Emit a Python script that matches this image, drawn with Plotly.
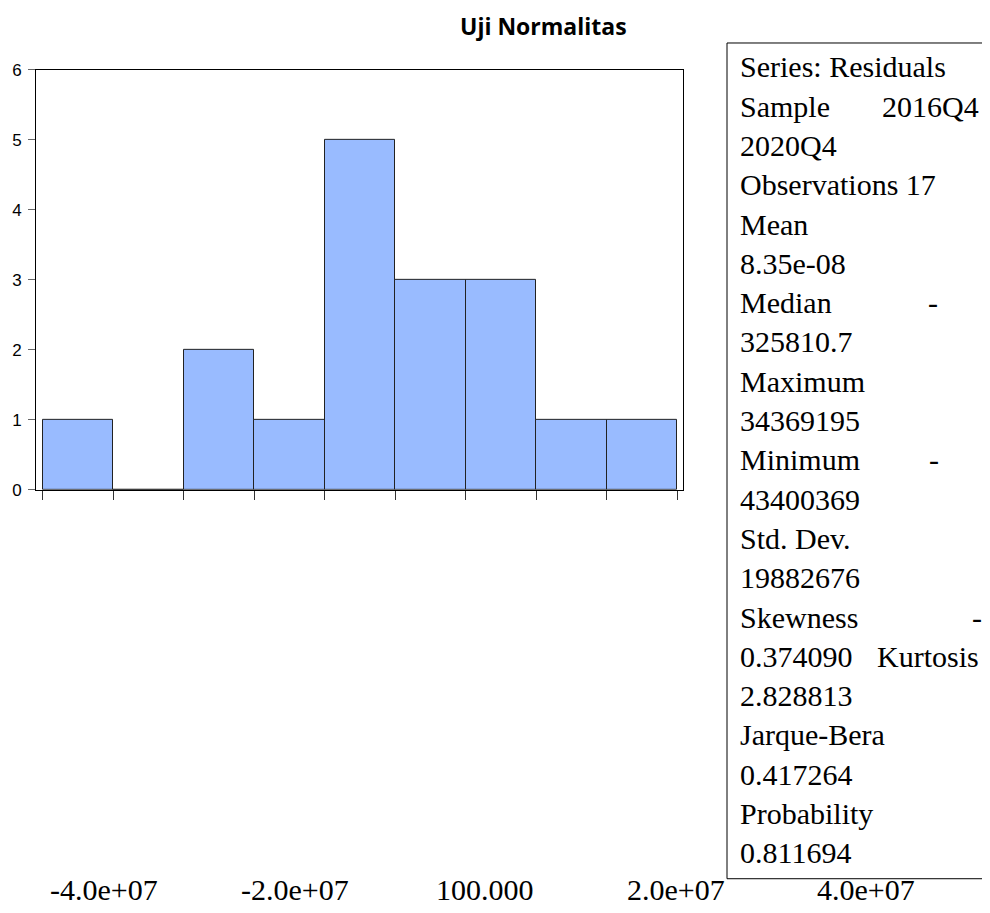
import plotly.graph_objects as go

# ---- data ----
bin_left_edges = [-5.0e7, -4.0e7, -3.0e7, -2.0e7, -1.0e7, 0.0, 1.0e7, 2.0e7, 3.0e7]
bin_width = 1.0e7
counts = [1, 0, 2, 1, 5, 3, 3, 1, 1]
y_ticks = [0, 1, 2, 3, 4, 5, 6]
bottom_labels = ["-4.0e+07", "-2.0e+07", "100.000", "2.0e+07", "4.0e+07"]
title_text = "Uji Normalitas"
stats_lines = [
    ("Series: Residuals", None),
    ("Sample", "2016Q4"),
    ("2020Q4", None),
    ("Observations 17", None),
    ("Mean", None),
    ("8.35e-08", None),
    ("Median", "-"),
    ("325810.7", None),
    ("Maximum", None),
    ("34369195", None),
    ("Minimum", "-"),
    ("43400369", None),
    ("Std. Dev.", None),
    ("19882676", None),
    ("Skewness", "-"),
    ("0.374090", "Kurtosis"),
    ("2.828813", None),
    ("Jarque-Bera", None),
    ("0.417264", None),
    ("Probability", None),
    ("0.811694", None),
]

OFF = 8  # page body margin
W, H = 990 - 2 * OFF, 913 - OFF

def px(x):
    return (x - OFF) / W

def py(y):
    yy = (y - 7) / 0.984
    return 1 - (yy - OFF) / H

centers = [e + bin_width / 2 for e in bin_left_edges]
edges = bin_left_edges + [bin_left_edges[-1] + bin_width]

fig = go.Figure()
fig.add_trace(go.Bar(
    x=centers, y=counts, width=[bin_width] * len(counts),
    marker=dict(color="#99BBFF", line=dict(color="#222222", width=1)),
    showlegend=False, hoverinfo="skip",
))

fig.update_layout(
    width=W, height=H, autosize=False,
    margin=dict(l=0, r=0, t=0, b=0),
    paper_bgcolor="white", plot_bgcolor="white",
    bargap=0,
    xaxis=dict(
        domain=[px(36), px(683)],
        range=[-5.099e7, 4.085e7],
        showgrid=False, zeroline=False,
        showline=True, linecolor="black", linewidth=1, mirror=True,
        ticks="outside", ticklen=9, tickcolor="#333333", tickwidth=1,
        tickvals=edges, showticklabels=False,
    ),
    yaxis=dict(
        domain=[py(490), py(68)],
        range=[0, 6],
        showgrid=False, zeroline=False,
        showline=True, linecolor="black", linewidth=1, mirror=True,
        ticks="outside", ticklen=7, tickcolor="#666666", tickwidth=1,
        tickvals=y_ticks, ticklabelstandoff=3,
        tickfont=dict(family="Liberation Sans, Arial, sans-serif", size=17, color="black"),
    ),
)

# title
fig.add_annotation(
    text="<b>" + title_text + "</b>", xref="paper", yref="paper",
    x=px(543), y=py(24), xanchor="center", yanchor="middle", showarrow=False,
    font=dict(family="Open Sans, sans-serif", size=23, color="black"),
)

# stats box
fig.add_shape(
    type="rect", xref="paper", yref="paper",
    x0=px(727), x1=px(1010), y0=py(881), y1=py(41),
    line=dict(color="black", width=1), fillcolor="rgba(0,0,0,0)",
)
serif = dict(family="Liberation Serif, Times New Roman, serif", size=30, color="black")
right_pos = {"2016Q4": 981, "Kurtosis": 981}
dash_pos = {"Median": 933, "Minimum": 934, "Skewness": 977}
for i, (left, right) in enumerate(stats_lines):
    yc = 65 + i * 39.5
    fig.add_annotation(
        text=left, xref="paper", yref="paper", x=px(738), y=py(yc),
        xanchor="left", yanchor="middle", showarrow=False, font=serif,
    )
    if right is not None:
        if right == "-":
            fig.add_annotation(
                text=right, xref="paper", yref="paper", x=px(dash_pos[left]), y=py(yc),
                xanchor="center", yanchor="middle", showarrow=False, font=serif,
            )
        else:
            fig.add_annotation(
                text=right, xref="paper", yref="paper", x=px(right_pos[right]), y=py(yc),
                xanchor="right", yanchor="middle", showarrow=False, font=serif,
            )

# bottom label row
label_centers = [104, 295, 485, 676, 866]
for lab, xc in zip(bottom_labels, label_centers):
    fig.add_annotation(
        text=lab, xref="paper", yref="paper", x=px(xc), y=py(892),
        xanchor="center", yanchor="middle", showarrow=False, font=serif,
    )

fig.write_html("out.html")
